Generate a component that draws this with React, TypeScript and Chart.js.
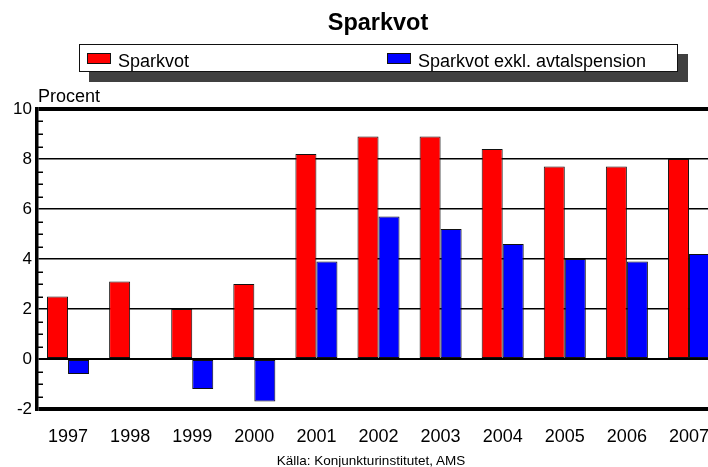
import React, { useEffect, useRef } from "react";
import { Chart, registerables } from "chart.js";

Chart.register(...registerables);

const years = ["1997", "1998", "1999", "2000", "2001", "2002", "2003", "2004", "2005", "2006", "2007"];
const sparkvot = [2.5, 3.1, 2.0, 3.0, 8.2, 8.9, 8.9, 8.4, 7.7, 7.7, 8.0];
const sparkvotExkl = [-0.6, null, -1.2, -1.7, 3.9, 5.7, 5.2, 4.6, 4.0, 3.9, 4.2];
const yMin = -2;
const yMax = 10;
const yStep = 2;
const minorStep = 0.5;

const titleText = "Sparkvot";
const seriesNames = ["Sparkvot", "Sparkvot exkl. avtalspension"];
const seriesColors = ["#ff0000", "#0000ff"];
const unitText = "Procent";
const sourceText = "Källa: Konjunkturinstitutet, AMS";

const FONT = "'Liberation Sans', Arial, sans-serif";

const minorTicksPlugin = {
  id: "minorTicks",
  afterDraw(chart: any) {
    const { ctx, chartArea, scales } = chart;
    const y = scales.y;
    ctx.save();
    ctx.strokeStyle = "#000";
    ctx.lineWidth = 1.5;
    const n = Math.round((yMax - yMin) / minorStep);
    for (let i = 0; i <= n; i++) {
      const v = yMin + i * minorStep;
      if (Math.abs(v / yStep - Math.round(v / yStep)) < 1e-6) continue;
      const py = Math.round(y.getPixelForValue(v)) + 0.25;
      ctx.beginPath();
      ctx.moveTo(chartArea.left, py);
      ctx.lineTo(chartArea.left + 6, py);
      ctx.stroke();
    }
    ctx.restore();
  },
};

export default function App() {
  const canvasRef = useRef<HTMLCanvasElement | null>(null);

  useEffect(() => {
    const canvas = canvasRef.current;
    if (!canvas) return;
    const chart = new Chart(canvas, {
      type: "bar",
      data: {
        labels: years,
        datasets: [
          {
            label: seriesNames[0],
            data: sparkvot,
            backgroundColor: seriesColors[0],
            borderColor: "#111",
            borderWidth: 1,
            borderSkipped: false,
            categoryPercentage: 0.677,
            barPercentage: 1,
          },
          {
            label: seriesNames[1],
            data: sparkvotExkl as any,
            backgroundColor: seriesColors[1],
            borderColor: "#111",
            borderWidth: 1,
            borderSkipped: false,
            categoryPercentage: 0.677,
            barPercentage: 1,
          },
        ],
      },
      options: {
        responsive: false,
        animation: false,
        devicePixelRatio: 1,
        layout: { padding: { top: 109, left: 0, right: 0, bottom: 0 } },
        plugins: {
          legend: { display: false },
          title: { display: false },
          tooltip: { enabled: false },
        },
        scales: {
          x: {
            grid: { display: false, drawTicks: false },
            border: { display: false },
            ticks: {
              color: "#000",
              font: { family: FONT, size: 18 },
              padding: 17,
              maxRotation: 0,
              autoSkip: false,
            },
            afterFit: (scale: any) => {
              scale.height = 58;
            },
          },
          y: {
            min: yMin,
            max: yMax,
            grid: {
              drawTicks: false,
              color: "#000",
              lineWidth: (ctx: any) => {
                const v = ctx.tick ? ctx.tick.value : 0;
                if (v === yMax || v === yMin) return 4;
                if (v === 0) return 2;
                return 1.5;
              },
            },
            border: { display: true, width: 3.5, color: "#000" },
            ticks: {
              stepSize: yStep,
              color: "#000",
              font: { family: FONT, size: 17 },
              padding: 5,
            },
            afterFit: (scale: any) => {
              scale.width = 37;
            },
          },
        },
      },
      plugins: [minorTicksPlugin],
    });
    return () => chart.destroy();
  }, []);

  return (
    <div
      style={{
        position: "fixed",
        left: 0,
        top: 0,
        width: 708,
        height: 467,
        overflow: "hidden",
        background: "#fff",
        fontFamily: FONT,
        color: "#000",
      }}
    >
      <canvas
        ref={canvasRef}
        width={726}
        height={467}
        style={{ position: "absolute", left: 0, top: 0, width: 726, height: 467 }}
      />
      <div
        style={{
          position: "absolute",
          left: 228,
          width: 300,
          top: 11,
          textAlign: "center",
          fontWeight: "bold",
          fontSize: 23.5,
          lineHeight: "23.5px",
          whiteSpace: "nowrap",
        }}
      >
        {titleText}
      </div>
      <div
        style={{
          position: "absolute",
          left: 79,
          top: 44,
          width: 599,
          height: 28,
          boxSizing: "border-box",
          border: "1px solid #111",
          background: "#fff",
          boxShadow: "10px 10px 0 #404040",
        }}
      />
      {[87, 387].map((x, i) => (
        <React.Fragment key={i}>
          <div
            style={{
              position: "absolute",
              left: x,
              top: 53,
              width: 24,
              height: 11,
              boxSizing: "border-box",
              border: "1px solid #111",
              background: seriesColors[i],
            }}
          />
          <div
            style={{
              position: "absolute",
              left: x + 31,
              top: 52,
              fontSize: 18,
              lineHeight: "18px",
              whiteSpace: "nowrap",
            }}
          >
            {seriesNames[i]}
          </div>
        </React.Fragment>
      ))}
      <div
        style={{
          position: "absolute",
          left: 38,
          top: 87,
          fontSize: 18,
          lineHeight: "18px",
          whiteSpace: "nowrap",
        }}
      >
        {unitText}
      </div>
      <div
        style={{
          position: "absolute",
          left: 171,
          width: 400,
          top: 454,
          textAlign: "center",
          fontSize: 13.5,
          lineHeight: "13.5px",
          whiteSpace: "nowrap",
        }}
      >
        {sourceText}
      </div>
    </div>
  );
}
